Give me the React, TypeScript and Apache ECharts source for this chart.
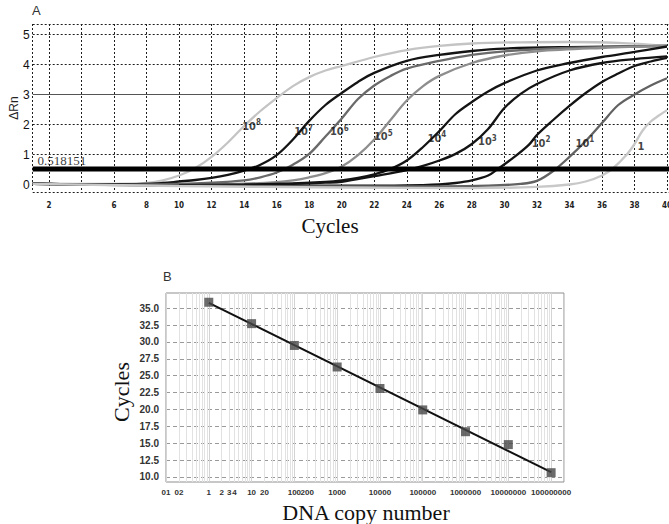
import React, { useEffect, useRef } from 'react';
import * as echarts from 'echarts';

// ---------- Panel A: amplification curves ----------
const curveNames = ['10^8', '10^7', '10^6', '10^5', '10^4', '10^3', '10^2', '10^1', '1'];
const curveColors = ['#c4c4c4', '#141414', '#6a6a6a', '#8e8e8e', '#141414', '#141414', '#141414', '#626262', '#c8c8c8'];

const curve1e8 = [[1, 0.04], [4, 0.02], [6, 0.02], [8, 0.05], [9, 0.14], [10, 0.3], [11, 0.55], [12, 0.92], [13, 1.4], [14, 1.95], [15, 2.45], [16, 2.88], [17, 3.28], [18, 3.58], [19, 3.8], [20, 3.95], [22, 4.25], [24, 4.48], [26, 4.62], [28, 4.7], [31, 4.74], [34, 4.75], [37, 4.72], [40, 4.62]];
const curve1e7 = [[1, 0.03], [4, 0.01], [7, 0.01], [9, 0.05], [10, 0.1], [11, 0.15], [12, 0.22], [13, 0.32], [14, 0.46], [15, 0.66], [16, 0.98], [17, 1.5], [18, 2.12], [19, 2.65], [20, 3.05], [21, 3.42], [22, 3.72], [24, 4.12], [26, 4.32], [28, 4.45], [30, 4.53], [34, 4.58], [40, 4.62]];
const curve1e6 = [[1, 0.03], [6, 0.0], [10, 0.02], [12, 0.06], [14, 0.14], [15, 0.24], [16, 0.4], [17, 0.66], [18, 1.02], [19, 1.6], [20, 2.2], [21, 2.85], [22, 3.3], [23, 3.62], [24, 3.86], [26, 4.12], [28, 4.32], [30, 4.44], [34, 4.55], [40, 4.62]];
const curve1e5 = [[1, 0.02], [10, 0.0], [14, 0.03], [16, 0.08], [17, 0.14], [18, 0.24], [19, 0.38], [20, 0.6], [21, 0.98], [22, 1.5], [23, 2.15], [24, 2.8], [25, 3.28], [26, 3.62], [28, 4.05], [30, 4.3], [32, 4.44], [36, 4.55], [40, 4.62]];
const curve1e4 = [[1, 0.02], [10, -0.01], [14, 0.0], [17, 0.04], [19, 0.09], [20, 0.14], [21, 0.22], [22, 0.34], [23, 0.52], [24, 0.8], [25, 1.25], [26, 1.78], [27, 2.35], [28, 2.75], [29, 3.1], [30, 3.38], [32, 3.8], [34, 4.05], [36, 4.25], [38, 4.42], [40, 4.6]];
const curve1e3 = [[1, 0.02], [10, -0.02], [14, -0.02], [17, 0.02], [19, 0.06], [20, 0.09], [22, 0.28], [24, 0.48], [25, 0.62], [26, 0.8], [27, 1.02], [28, 1.35], [29, 1.85], [30, 2.55], [31, 3.02], [32, 3.35], [34, 3.8], [36, 4.05], [38, 4.18], [40, 4.27]];
const curve1e2 = [[1, 0.02], [10, -0.03], [16, -0.04], [22, -0.04], [25, -0.02], [26, 0.0], [27, 0.05], [28, 0.14], [29, 0.3], [29.5, 0.48], [30.5, 0.87], [31.5, 1.32], [32, 1.65], [33, 2.15], [34, 2.62], [35, 3.05], [36, 3.42], [37, 3.7], [38, 3.95], [39, 4.1], [40, 4.22]];
const curve1e1 = [[1, 0.02], [10, -0.04], [20, -0.06], [26, -0.06], [29, -0.04], [31, 0.02], [32, 0.12], [33, 0.45], [34, 0.92], [35, 1.45], [36, 2.05], [37, 2.65], [38, 3.0], [39, 3.3], [40, 3.54]];
const curve1e0 = [[1, 0.02], [10, -0.05], [20, -0.1], [28, -0.12], [32, -0.08], [34, 0.0], [35, 0.1], [36, 0.3], [36.7, 0.55], [37.5, 0.98], [38, 1.35], [38.5, 1.8], [39, 2.1], [39.5, 2.3], [40, 2.48]];
const curves = [curve1e8, curve1e7, curve1e6, curve1e5, curve1e4, curve1e3, curve1e2, curve1e1, curve1e0];

const threshold = 0.518151;
const labelX = [14.4, 17.6, 19.8, 22.5, 25.8, 28.9, 32.2, 34.9, 38.4];
const labelY = [1.95, 1.76, 1.76, 1.6, 1.54, 1.43, 1.37, 1.37, 1.26];
const labelBase = ['10', '10', '10', '10', '10', '10', '10', '10', '1'];
const labelExp = ['8', '7', '6', '5', '4', '3', '2', '1', ''];

const aXLabelTicks = [2, 6, 8, 10, 12, 14, 16, 18, 20, 22, 24, 26, 28, 30, 32, 34, 36, 38, 40];
const aXGridTicks = [1, 2, 4, 6, 8, 10, 12, 14, 16, 18, 20, 22, 24, 26, 28, 30, 32, 34, 36, 38, 40];
const aYLabelTicks = [0, 1, 2, 3, 4, 5];
const aYGridTicks = [-0.25, 1, 2, 4, 5, 5.35];

// ---------- Panel B: standard curve ----------
const copyNumbers = [1, 10, 100, 1000, 10000, 100000, 1000000, 10000000, 100000000];
const ctValues = [35.88, 32.71, 29.48, 26.29, 23.1, 19.93, 16.7, 14.79, 10.63];
const trendX = [1, 100000000];
const trendY = [35.8, 10.7];
const bYTicks = [10, 12.5, 15, 17.5, 20, 22.5, 25, 27.5, 30, 32.5, 35];
const bXTickValues = [0.1, 0.2, 1, 2, 3, 4, 10, 20, 100, 200, 1000, 10000, 100000, 1000000, 10000000, 100000000];
const bXTickTexts = ['01', '02', '1', '2', '3', '4', '10', '20', '100', '200', '1000', '10000', '100000', '1000000', '10000000', '100000000'];

const SERIF = '"Liberation Serif", "Times New Roman", serif';
const SANS = '"Liberation Sans", Arial, sans-serif';
const NARROW = '"Liberation Sans Narrow", "DejaVu Sans Condensed", "Liberation Sans", sans-serif';

export default function App() {
  const ref = useRef<HTMLDivElement>(null);
  useEffect(() => {
    if (!ref.current) return;
    const chart = echarts.init(ref.current, undefined, { renderer: 'svg' });

    const bMinX = 0.1;
    const bMaxX = 200000000;
    const minorX: number[] = [];
    for (let d = -1; d <= 8; d++) {
      for (let k = 2; k <= 9; k++) {
        const v = k * Math.pow(10, d);
        if (v < bMaxX) minorX.push(v);
      }
    }
    const bXPos = bXTickValues.map((v) => Math.log10(v));

    const curveSeries = curves.map((c, i) => ({
      type: 'line',
      name: curveNames[i],
      xAxisIndex: 0,
      yAxisIndex: 0,
      data: c,
      smooth: 0.35,
      showSymbol: false,
      symbol: 'none',
      lineStyle: { color: curveColors[i], width: 2.3 },
      z: 3,
    }));

    const labelCommon = { color: '#000', textBorderWidth: 0, textBorderColor: 'transparent' };

    const option: any = {
      animation: false,
      backgroundColor: '#ffffff',
      grid: [
        { left: 32.7, top: 24, right: -14.3, bottom: 332, show: false, outerBoundsMode: 'none', containLabel: false },
        { left: 166, top: 293, right: 105, bottom: 42, show: true, borderColor: '#8f8f8f', borderWidth: 1, outerBoundsMode: 'none', containLabel: false },
      ],
      xAxis: [
        {
          type: 'value', gridIndex: 0, min: 1, max: 41, position: 'bottom',
          axisLine: { show: false, onZero: false },
          axisTick: { show: false, customValues: aXGridTicks },
          axisLabel: {
            customValues: aXLabelTicks, margin: 9, fontSize: 8, fontWeight: 'bold',
            fontFamily: NARROW, color: '#222',
          },
          splitLine: { show: true, lineStyle: { color: '#1e1e1e', type: [2, 2], width: 1 } },
        },
        {
          type: 'log', gridIndex: 1, min: bMinX, max: bMaxX, logBase: 10, position: 'top',
          axisLine: { show: false, onZero: false },
          axisTick: { show: false },
          axisLabel: { show: false },
          splitLine: { show: true, lineStyle: { color: '#d4d4d4', width: 1 } },
        },
        {
          type: 'value', gridIndex: 1, min: -1, max: Math.log10(bMaxX), position: 'bottom',
          axisLine: { show: false, onZero: false },
          axisTick: { show: false },
          splitLine: { show: false },
          axisLabel: {
            customValues: bXPos, margin: 6, fontSize: 8, fontWeight: 'bold', fontFamily: SANS, color: '#333',
            formatter: (v: number) => {
              const i = bXPos.findIndex((p) => Math.abs(p - v) < 1e-6);
              return i >= 0 ? bXTickTexts[i] : '';
            },
          },
        },
      ],
      yAxis: [
        {
          type: 'value', gridIndex: 0, min: -0.25, max: 5.35, position: 'left',
          axisLine: { show: false, onZero: false },
          axisTick: { show: false, customValues: aYGridTicks },
          axisLabel: { customValues: aYLabelTicks, margin: 3, fontSize: 12, fontFamily: SANS, color: '#111' },
          splitLine: { show: true, lineStyle: { color: '#1e1e1e', type: [2, 2], width: 1 } },
        },
        {
          type: 'value', gridIndex: 1, min: 9.25, max: 37.25, position: 'left',
          axisLine: { show: false, onZero: false },
          axisTick: { show: false, customValues: bYTicks },
          axisLabel: {
            customValues: bYTicks, margin: 7, fontSize: 10, fontWeight: 'bold', fontFamily: SANS, color: '#333',
            formatter: (v: number) => v.toFixed(1),
          },
          splitLine: { show: true, lineStyle: { color: '#9a9a9a', type: [4, 3], width: 1 } },
        },
      ],
      graphic: [
        { type: 'text', left: 32, top: 4, style: { text: 'A', fontSize: 13, fontFamily: SANS, fill: '#333' } },
        { type: 'text', x: 14, y: 108, rotation: Math.PI / 2, style: { text: 'ΔRn', fontSize: 12, fontFamily: SANS, fill: '#222', align: 'center', verticalAlign: 'middle' } },
        { type: 'text', x: 330, y: 226, style: { text: 'Cycles', fontSize: 21, fontFamily: SERIF, fill: '#111', align: 'center', verticalAlign: 'middle' } },
        { type: 'text', left: 163, top: 270, style: { text: 'B', fontSize: 13, fontFamily: SANS, fill: '#333' } },
        { type: 'text', x: 121, y: 392, rotation: Math.PI / 2, style: { text: 'Cycles', fontSize: 22, fontFamily: SERIF, fill: '#111', align: 'center', verticalAlign: 'middle' } },
        { type: 'text', x: 366, y: 512, style: { text: 'DNA copy number', fontSize: 22, fontFamily: SERIF, fill: '#111', align: 'center', verticalAlign: 'middle' } },
      ],
      series: [
        {
          type: 'line', name: 'y3', xAxisIndex: 0, yAxisIndex: 0, data: [],
          markLine: {
            silent: true, symbol: 'none', label: { show: false }, z: 1,
            lineStyle: { color: '#555', type: 'solid', width: 1 },
            data: [{ yAxis: 3 }],
          },
          z: 1,
        },
        ...curveSeries,
        {
          type: 'line', name: 'threshold', xAxisIndex: 0, yAxisIndex: 0,
          data: [[1, threshold], [41, threshold]],
          showSymbol: false, symbol: 'none',
          lineStyle: { color: '#000', width: 5 },
          z: 4,
        },
        {
          type: 'scatter', name: 'labels', xAxisIndex: 0, yAxisIndex: 0,
          symbolSize: 1, itemStyle: { color: 'rgba(0,0,0,0)' }, z: 6,
          data: [
            ...labelX.map((x, i) => ({
              value: [x, labelY[i]],
              label: {
                show: true, position: 'right', offset: [labelExp[i] ? -14 : -9, 0], ...labelCommon,
                formatter: labelExp[i] ? `{b|${labelBase[i]}}{s|${labelExp[i]}}` : `{b|${labelBase[i]}}`,
              },
            })),
            {
              value: [1.2, threshold],
              label: {
                show: true, position: 'right', offset: [-4, -8], ...labelCommon, formatter: '{t|0.518151}',
              },
            },
          ],
          label: {
            show: true,
            ...labelCommon,
            rich: {
              b: { fontSize: 11, fontWeight: 'bold', fontFamily: NARROW, color: '#111', textBorderWidth: 0 },
              s: { fontSize: 8, fontWeight: 'bold', fontFamily: NARROW, color: '#111', textBorderWidth: 0, padding: [0, 0, 7, 0] },
              t: { fontSize: 13, fontFamily: SERIF, color: '#000', textBorderWidth: 0 },
            },
          },
        },
        {
          type: 'line', name: 'minorGrid', xAxisIndex: 1, yAxisIndex: 1, data: [],
          markLine: {
            silent: true, symbol: 'none', label: { show: false }, z: 1,
            lineStyle: { color: '#e2e2e2', type: 'solid', width: 1 },
            data: minorX.map((v) => ({ xAxis: v })),
          },
          z: 1,
        },
        {
          type: 'line', name: 'trend', xAxisIndex: 1, yAxisIndex: 1,
          data: trendX.map((x, i) => [x, trendY[i]]),
          showSymbol: false, symbol: 'none',
          lineStyle: { color: '#111', width: 2 },
          z: 5,
        },
        {
          type: 'scatter', name: 'Ct', xAxisIndex: 1, yAxisIndex: 1,
          data: copyNumbers.map((c, i) => [c, ctValues[i]]),
          symbol: 'rect', symbolSize: 9,
          itemStyle: { color: '#474747' },
          z: 6,
        },
      ],
    };

    chart.setOption(option);
    return () => chart.dispose();
  }, []);

  return (
    <div
      ref={ref}
      style={{ position: 'absolute', left: 0, top: 0, width: 669, height: 524, background: '#fff' }}
    />
  );
}
